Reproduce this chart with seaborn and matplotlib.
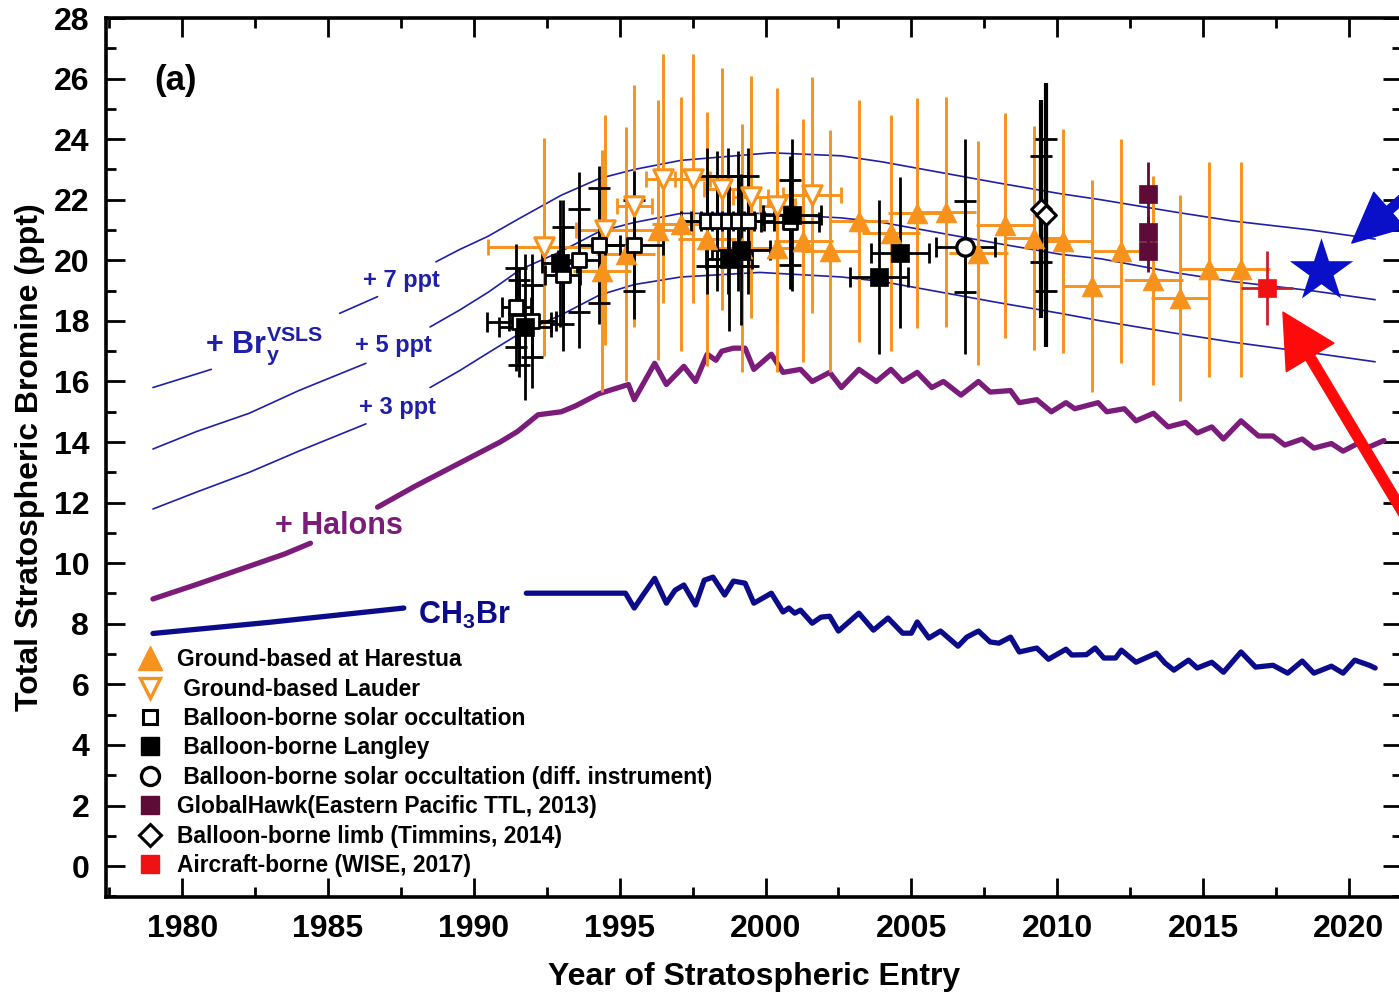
import numpy as np
import pandas as pd
import matplotlib
matplotlib.use("Agg")
import matplotlib.pyplot as plt
import seaborn as sns
from matplotlib.lines import Line2D
from matplotlib.ticker import MultipleLocator

nan = np.nan

# ---------------- data ----------------
ch3br_year = [1979.0, 1983.0, 1987.6, nan, 1991.8, 1995.2, 1995.5, 1995.8, 1996.2, 1996.6, 1996.9, 1997.2,
              1997.6, 1997.9, 1998.2, 1998.6, 1998.9, 1999.3, 1999.6, 2000.2, 2000.6, 2000.8, 2001.0,
              2001.2, 2001.6, 2001.9, 2002.2, 2002.5, 2003.2, 2003.7, 2004.2, 2004.7, 2005.0, 2005.2,
              2005.6, 2006.0, 2006.6, 2006.9, 2007.3, 2007.7, 2008.0, 2008.4, 2008.7, 2009.3, 2009.7,
              2010.3, 2010.5, 2011.0, 2011.3, 2011.6, 2012.0, 2012.2, 2012.7, 2013.4, 2013.7, 2014.0,
              2014.5, 2014.8, 2015.3, 2015.7, 2016.3, 2016.8, 2017.4, 2017.9, 2018.4, 2018.8, 2019.4,
              2019.8, 2020.2, 2020.7, 2020.9]
ch3br_val = [7.68, 8.05, 8.52, nan, 9.01, 9.01, 8.52, 8.95, 9.50, 8.68, 9.11, 9.28,
             8.62, 9.44, 9.54, 8.95, 9.41, 9.34, 8.68, 9.01, 8.39, 8.52, 8.35,
             8.45, 8.02, 8.22, 8.25, 7.76, 8.35, 7.79, 8.19, 7.69, 7.69, 8.06,
             7.53, 7.76, 7.26, 7.56, 7.76, 7.40, 7.36, 7.56, 7.07, 7.20, 6.83,
             7.16, 6.97, 6.98, 7.20, 6.87, 6.87, 7.13, 6.73, 7.03, 6.70, 6.47,
             6.80, 6.54, 6.73, 6.40, 7.07, 6.57, 6.63, 6.37, 6.77, 6.37, 6.60,
             6.37, 6.80, 6.63, 6.54]

halon_year = [1979.0, 1980.5, 1982.0, 1983.5, 1984.4, nan, 1986.7, 1988.0, 1989.5, 1990.9, 1991.5,
              1992.2, 1992.6, 1993.0, 1993.5, 1994.3, 1995.3, 1995.5, 1996.2, 1996.6, 1997.2, 1997.6,
              1998.0, 1998.3, 1998.5, 1998.9, 1999.3, 1999.6, 2000.2, 2000.6, 2001.2, 2001.6, 2002.2,
              2002.6, 2003.2, 2003.8, 2004.3, 2004.7, 2005.2, 2005.7, 2006.1, 2006.7, 2007.3, 2007.7,
              2008.4, 2008.7, 2009.3, 2009.8, 2010.3, 2010.6, 2011.4, 2011.7, 2012.3, 2012.7, 2013.3,
              2013.8, 2014.4, 2014.8, 2015.3, 2015.7, 2016.3, 2016.9, 2017.4, 2017.8, 2018.4, 2018.8,
              2019.4, 2019.8, 2020.3, 2020.6, 2021.2]
halon_val = [8.82, 9.30, 9.80, 10.30, 10.66, nan, 11.85, 12.55, 13.30, 14.00, 14.35,
             14.90, 14.95, 15.00, 15.20, 15.60, 15.90, 15.40, 16.60, 15.90, 16.50, 16.00,
             16.90, 16.70, 17.00, 17.10, 17.10, 16.40, 16.90, 16.30, 16.40, 16.00, 16.30,
             15.80, 16.40, 16.00, 16.40, 16.00, 16.30, 15.80, 16.00, 15.55, 16.00, 15.65,
             15.70, 15.30, 15.40, 15.00, 15.30, 15.10, 15.30, 15.00, 15.10, 14.70, 14.95,
             14.50, 14.65, 14.30, 14.50, 14.10, 14.70, 14.20, 14.20, 13.90, 14.10, 13.80,
             13.95, 13.70, 13.95, 13.80, 14.05]

vsls7_year = [1979.0, 1981.0, nan, 1985.4, 1986.7, nan, 1988.7, 1989.5, 1990.5, 1991.5, 1993.0, 1994.3,
              1995.5, 1997.1, 2000.2, 2002.6, 2004.0, 2006.0, 2008.0, 2010.1, 2011.5, 2014.0, 2016.0,
              2018.7, 2020.9]
vsls7_val = [15.80, 16.40, nan, 18.25, 18.80, nan, 19.95, 20.35, 20.80, 21.35, 22.15, 22.70,
             23.00, 23.30, 23.55, 23.45, 23.25, 22.90, 22.55, 22.20, 22.00, 21.60, 21.30,
             21.00, 20.70]
vsls5_year = [1979.0, 1980.5, 1982.3, 1984.0, 1986.3, nan, 1988.5, 1989.5, 1990.5, 1991.6, 1993.0,
              1994.3, 1995.5, 1997.1, 1999.8, 2002.6, 2004.0, 2006.0, 2008.0, 2010.1, 2011.5, 2014.0,
              2016.0, 2018.7, 2020.9]
vsls5_val = [13.77, 14.35, 14.95, 15.70, 16.60, nan, 17.80, 18.35, 18.95, 19.70, 20.30,
             20.95, 21.25, 21.55, 21.55, 21.40, 21.25, 20.90, 20.55, 20.20, 20.05, 19.60,
             19.30, 19.00, 18.70]
vsls3_year = [1979.0, 1980.5, 1982.3, 1984.0, 1986.3, nan, 1988.5, 1989.5, 1990.5, 1991.6, 1993.0,
              1994.3, 1995.5, 1997.1, 1999.8, 2002.6, 2004.0, 2006.0, 2008.0, 2010.1, 2011.5, 2014.0,
              2016.0, 2018.7, 2020.9]
vsls3_val = [11.79, 12.35, 13.00, 13.70, 14.60, nan, 15.80, 16.35, 16.95, 17.60, 18.20,
             18.85, 19.20, 19.45, 19.60, 19.45, 19.30, 18.95, 18.60, 18.25, 18.00, 17.60,
             17.30, 16.95, 16.65]

harestua_year = [1994.4, 1995.2, 1996.3, 1997.1, 1998.0, 1999.2, 2000.4, 2001.3, 2002.2, 2003.2, 2004.3,
                 2005.2, 2006.2, 2007.3, 2008.2, 2009.2, 2010.2, 2011.2, 2012.2, 2013.3, 2014.2, 2015.2,
                 2016.3]
harestua_val = [19.65, 20.20, 21.00, 21.20, 20.70, 20.40, 20.40, 20.65, 20.30, 21.30, 20.90,
                21.55, 21.60, 20.25, 21.15, 20.75, 20.65, 19.15, 20.30, 19.35, 18.75, 19.70,
                19.70]
harestua_yerr = [4.0, 4.2, 4.3, 4.2, 4.2, 4.1, 4.1, 4.0, 4.0, 4.0, 3.9,
                 3.8, 3.8, 3.7, 3.7, 3.7, 3.7, 3.5, 3.7, 3.45, 3.4, 3.55,
                 3.55]
harestua_xerr = [1.0] * 23

lauder_year = [1992.4, 1994.5, 1995.5, 1996.5, 1997.5, 1998.5, 1999.5, 2000.4, 2001.6]
lauder_val = [20.45, 21.00, 21.80, 22.70, 22.70, 22.35, 22.10, 21.80, 22.15]
lauder_yerr = [3.6, 3.8, 4.0, 4.1, 4.1, 4.0, 4.0, 3.9, 3.9]
lauder_xerr = [1.9, 1.0, 0.6, 0.6, 0.6, 0.6, 0.6, 0.6, 1.0]

occ_year = [1991.45, 1991.55, 1992.0, 1993.05, 1993.6, 1994.3, 1995.5, 1998.0, 1998.35, 1998.7,
            1999.05, 1999.4, 2000.85]
occ_val = [18.45, 17.95, 18.00, 19.50, 20.00, 20.50, 20.50, 21.30, 21.30, 21.30, 21.30, 21.30, 21.25]
occ_yerr_in = [1.3, 1.4, 1.2, 1.6, 1.7, 1.9, 1.5, 1.5, 1.5, 1.5, 1.5, 1.5, 1.4]
occ_yerr_out = [2.1, 1.8, 2.2, 2.5, 2.9, 2.6, 2.45, 2.4, 2.3, 2.4, 2.3, 2.4, 2.2]
occ_xerr = [0.5, 1.1, 0.8, 0.6, 0.7, 0.7, 1.0, 0.9, 0.9, 0.9, 0.9, 0.9, 1.0]

langley_year = [1991.75, 1992.95, 1998.75, 1999.15, 2000.9, 2003.9, 2004.6]
langley_val = [17.80, 19.90, 20.05, 20.35, 21.50, 19.45, 20.25]
langley_yerr = [2.4, 2.1, 2.4, 2.5, 2.5, 2.55, 2.5]
langley_xerr = [0.9, 0.6, 0.8, 1.0, 1.0, 1.0, 1.0]

diff_year = [2006.85]
diff_val = [20.45]
diff_yerr_in = [1.5]
diff_yerr_out = [3.55]
diff_xerr = [1.0]

gh_year = [2013.1, 2013.1, 2013.1]
gh_val = [22.20, 20.95, 20.30]
gh_yerr = [1.05, 0.5, 0.7]

limb_year = [2009.45, 2009.6]
limb_val = [21.70, 21.50]
limb_yerr_in = [1.75, 2.5]
limb_yerr_out = [3.6, 4.35]

wise_year = [2017.2]
wise_val = [19.10]
wise_yerr = [1.22]
wise_xerr = [0.9]

star_year = [2019.05]
star_val = [19.65]

legend_labels = ["Ground-based at Harestua", " Ground-based Lauder", " Balloon-borne solar occultation",
                 " Balloon-borne Langley", " Balloon-borne solar occultation (diff. instrument)",
                 "GlobalHawk(Eastern Pacific TTL, 2013)", "Balloon-borne limb (Timmins, 2014)",
                 "Aircraft-borne (WISE, 2017)"]

# ---------------- style ----------------
sns.set_theme(style="ticks")
plt.rcParams['font.family'] = ['Liberation Sans', 'DejaVu Sans']
plt.rcParams['font.weight'] = 'bold'
plt.rcParams['axes.labelweight'] = 'bold'
plt.rcParams['text.color'] = 'black'
plt.rcParams['axes.labelcolor'] = 'black'
plt.rcParams['xtick.color'] = 'black'
plt.rcParams['ytick.color'] = 'black'
plt.rcParams['xtick.labelcolor'] = 'black'
plt.rcParams['ytick.labelcolor'] = 'black'
plt.rcParams['mathtext.fontset'] = 'custom'
plt.rcParams['mathtext.rm'] = 'Liberation Sans:bold'
plt.rcParams['mathtext.bf'] = 'Liberation Sans:bold'
plt.rcParams['mathtext.it'] = 'Liberation Sans:bold'
plt.rcParams['mathtext.default'] = 'bf'

ORANGE = '#F7921C'
VSLS_C = '#1F1FA8'
HALON_C = '#7B1C7B'
CH3BR_C = '#0C0C8A'
GH_C = '#5E0B38'
RED_C = '#F01212'
RED_BAR = '#C8202A'
STAR_C = '#0A10C8'

fig = plt.figure(figsize=(13.99, 9.93), dpi=100)
ax = fig.add_axes([106 / 1399, 96 / 993, 1296 / 1399, 879 / 993])


def draw_line(xs, ys, **kw):
    """Draw a series split at NaN gaps with seaborn."""
    xs = np.asarray(xs, float)
    ys = np.asarray(ys, float)
    brk = np.where(np.isnan(xs))[0]
    starts = np.r_[0, brk + 1]
    ends = np.r_[brk, len(xs)]
    for s, e in zip(starts, ends):
        df = pd.DataFrame({'x': xs[s:e], 'y': ys[s:e]})
        sns.lineplot(data=df, x='x', y='y', ax=ax, sort=False, estimator=None, **kw)


draw_line(vsls7_year, vsls7_val, color=VSLS_C, lw=1.2, zorder=1)
draw_line(vsls5_year, vsls5_val, color=VSLS_C, lw=1.2, zorder=1)
draw_line(vsls3_year, vsls3_val, color=VSLS_C, lw=1.2, zorder=1)
draw_line(halon_year, halon_val, color=HALON_C, lw=3.8, zorder=2)
draw_line(ch3br_year, ch3br_val, color=CH3BR_C, lw=3.8, zorder=2)

# orange error bars
ax.errorbar(harestua_year, harestua_val, yerr=harestua_yerr, xerr=harestua_xerr, fmt='none',
            ecolor=ORANGE, elinewidth=2.1, capsize=0, zorder=3)
ax.errorbar(lauder_year, lauder_val, yerr=lauder_yerr, fmt='none', ecolor=ORANGE, elinewidth=2.1,
            capsize=0, zorder=3)
ax.errorbar(lauder_year, lauder_val, xerr=lauder_xerr, fmt='none', ecolor=ORANGE, elinewidth=2.1,
            capsize=6, capthick=2.0, zorder=3)

# black error bars
for yy, vv, yi, yo, xe in [(occ_year, occ_val, occ_yerr_in, occ_yerr_out, occ_xerr),
                           (diff_year, diff_val, diff_yerr_in, diff_yerr_out, diff_xerr)]:
    ax.errorbar(yy, vv, yerr=yo, fmt='none', ecolor='black', elinewidth=2.0, capsize=0, zorder=4)
    ax.errorbar(yy, vv, yerr=yi, fmt='none', ecolor='black', elinewidth=2.0, capsize=8, capthick=2.0, zorder=4)
    ax.errorbar(yy, vv, xerr=xe, fmt='none', ecolor='black', elinewidth=2.0, capsize=7, capthick=2.0, zorder=4)
ax.errorbar(langley_year, langley_val, yerr=langley_yerr, fmt='none', ecolor='black', elinewidth=2.0,
            capsize=0, zorder=4)
ax.errorbar(langley_year, langley_val, xerr=langley_xerr, fmt='none', ecolor='black', elinewidth=2.0,
            capsize=7, capthick=2.0, zorder=4)
ax.errorbar(limb_year, limb_val, yerr=limb_yerr_out, fmt='none', ecolor='black', elinewidth=3.0,
            capsize=0, zorder=4)
ax.errorbar(limb_year, limb_val, yerr=limb_yerr_in, fmt='none', ecolor='black', elinewidth=3.0,
            capsize=8, capthick=2.0, zorder=4)
ax.errorbar(gh_year, gh_val, yerr=gh_yerr, fmt='none', ecolor=GH_C, elinewidth=2.0, capsize=0, zorder=4)
ax.errorbar(wise_year, wise_val, yerr=wise_yerr, xerr=wise_xerr, fmt='none', ecolor=RED_BAR,
            elinewidth=2.0, capsize=0, zorder=4)

# markers
sns.scatterplot(x=harestua_year, y=harestua_val, ax=ax, marker='^', s=15 ** 2, color=ORANGE,
                edgecolor=ORANGE, linewidth=0.5, zorder=5)
sns.scatterplot(x=lauder_year, y=lauder_val, ax=ax, marker='v', s=14 ** 2, facecolor='white',
                edgecolor=ORANGE, linewidth=2.2, zorder=5)
sns.scatterplot(x=occ_year, y=occ_val, ax=ax, marker='s', s=10.5 ** 2, facecolor='white',
                edgecolor='black', linewidth=2.0, zorder=6)
sns.scatterplot(x=langley_year, y=langley_val, ax=ax, marker='s', s=13 ** 2, color='black',
                edgecolor='black', linewidth=0.5, zorder=6)
sns.scatterplot(x=diff_year, y=diff_val, ax=ax, marker='o', s=12.5 ** 2, facecolor='white',
                edgecolor='black', linewidth=2.4, zorder=6)
sns.scatterplot(x=limb_year, y=limb_val, ax=ax, marker='D', s=10 ** 2, facecolor='white',
                edgecolor='black', linewidth=2.2, zorder=6)
sns.scatterplot(x=gh_year, y=gh_val, ax=ax, marker='s', s=13 ** 2, color=GH_C, edgecolor=GH_C,
                linewidth=0.5, zorder=6)
sns.scatterplot(x=wise_year, y=wise_val, ax=ax, marker='s', s=13 ** 2, color=RED_C, edgecolor=RED_C,
                linewidth=0.5, zorder=6)
sns.scatterplot(x=star_year, y=star_val, ax=ax, marker='*', s=48 ** 2, color=STAR_C, edgecolor=STAR_C,
                linewidth=0, zorder=7)

# arrows
ax.annotate("", xy=(2017.74, 18.29), xytext=(2023.1, 9.67), annotation_clip=False,
            arrowprops=dict(arrowstyle="simple,head_length=1.9,head_width=2.0,tail_width=0.36",
                            mutation_scale=20, color='#FF0A0A', shrinkA=0, shrinkB=0), zorder=8)
ax.annotate("", xy=(2020.1, 20.57), xytext=(2024.5, 24.3), annotation_clip=False,
            arrowprops=dict(arrowstyle="simple,head_length=1.8,head_width=1.7,tail_width=0.32",
                            mutation_scale=20, color=STAR_C, shrinkA=0, shrinkB=0), zorder=8)

# annotations
ax.text(1979.76, 25.95, "(a)", fontsize=25, fontweight='bold', ha='center', va='center', color='black')
ax.text(1987.51, 19.35, "+ 7 ppt", fontsize=17, fontweight='bold', ha='center', va='center', color=VSLS_C)
ax.text(1987.23, 17.20, "+ 5 ppt", fontsize=17, fontweight='bold', ha='center', va='center', color=VSLS_C)
ax.text(1987.40, 15.15, "+ 3 ppt", fontsize=17, fontweight='bold', ha='center', va='center', color=VSLS_C)
ax.text(1980.79, 16.97, r"$\mathbf{+\ Br}_{\mathbf{y}}^{\mathbf{VSLS}}$", fontsize=22, ha='left',
        va='baseline', color=VSLS_C)
ax.text(1985.38, 11.22, "+ Halons", fontsize=22, fontweight='bold', ha='center', va='center', color=HALON_C)
ax.text(1988.10, 8.29, r"$\mathbf{CH_3Br}$", fontsize=22, ha='left', va='center', color=CH3BR_C)

# axes
ax.set_xlim(1977.39, 2021.82)
ax.set_ylim(-1.02, 28.0)
ax.xaxis.set_major_locator(MultipleLocator(5))
ax.xaxis.set_minor_locator(MultipleLocator(2.5))
ax.yaxis.set_major_locator(MultipleLocator(2))
ax.yaxis.set_minor_locator(MultipleLocator(1))
ax.tick_params(which='both', direction='in', top=True, right=True, width=2.0, colors='black',
               labelcolor='black')
ax.tick_params(which='major', length=14, labelsize=23, pad=12)
ax.tick_params(which='minor', length=7)
for lab in ax.get_xticklabels() + ax.get_yticklabels():
    lab.set_fontweight('bold')
for sp in ax.spines.values():
    sp.set_linewidth(2.6)
    sp.set_color('black')
ax.set_xlabel("Year of Stratospheric Entry", fontsize=23, fontweight='bold', labelpad=13, color='black')
ax.set_ylabel("Total Stratospheric Bromine (ppt)", fontsize=23, fontweight='bold', labelpad=6, color='black')

# legend
handles = [
    Line2D([], [], ls='none', marker='^', ms=17, mfc=ORANGE, mec=ORANGE),
    Line2D([], [], ls='none', marker='v', ms=15, mfc='white', mec=ORANGE, mew=2.4),
    Line2D([], [], ls='none', marker='s', ms=10, mfc='white', mec='black', mew=2.2),
    Line2D([], [], ls='none', marker='s', ms=13, mfc='black', mec='black'),
    Line2D([], [], ls='none', marker='o', ms=13, mfc='white', mec='black', mew=2.4),
    Line2D([], [], ls='none', marker='s', ms=13, mfc=GH_C, mec=GH_C),
    Line2D([], [], ls='none', marker='D', ms=11, mfc='white', mec='black', mew=2.2),
    Line2D([], [], ls='none', marker='s', ms=13, mfc=RED_C, mec=RED_C),
]
leg = ax.legend(handles, legend_labels, loc='upper left', bbox_to_anchor=(0.0231, 0.283),
                frameon=False, handlelength=1.2, handletextpad=0.62, labelspacing=0.28,
                borderpad=0, borderaxespad=0, prop={'weight': 'bold', 'size': 16.4})
for t in leg.get_texts():
    t.set_color('black')

fig.savefig("out.png", dpi=100)
